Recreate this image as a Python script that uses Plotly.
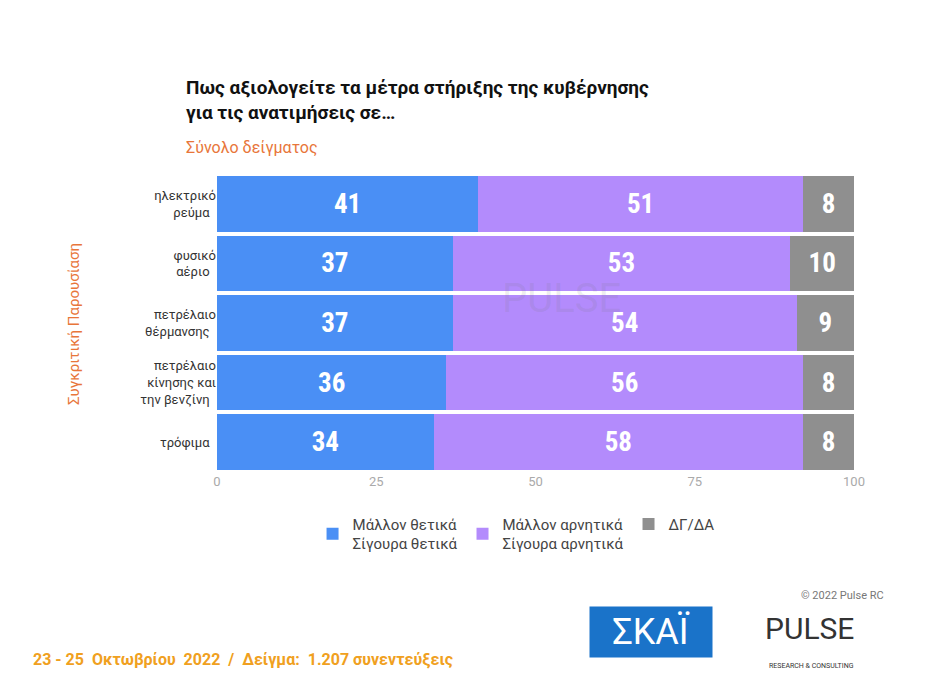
import plotly.graph_objects as go

categories = ["ηλεκτρικό<br>ρεύμα", "φυσικό<br>αέριο", "πετρέλαιο<br>θέρμανσης",
              "πετρέλαιο<br>κίνησης και<br>την βενζίνη", "τρόφιμα"]
positive = [41, 37, 37, 36, 34]
negative = [51, 53, 54, 56, 58]
dkna = [8, 10, 9, 8, 8]
series_names = ["Μάλλον θετικά<br>Σίγουρα θετικά", "Μάλλον αρνητικά<br>Σίγουρα αρνητικά", "ΔΓ/ΔΑ"]
colors = ["#4a8ff5", "#b38bfc", "#8f8f8f"]
tick_vals = [0, 25, 50, 75, 100]

W, H = 944, 692
ML, MR, MT, MB = 209, 98, 166, 228
SHIFT = 7  # plotly draws the plot area slightly right of the margin

fig = go.Figure()
for name, vals, col in zip(series_names, [positive, negative, dkna], colors):
    fig.add_trace(go.Bar(
        y=categories, x=vals, name=name, orientation="h", marker=dict(color=col, line=dict(width=0)),
        text=vals, textposition="inside", insidetextanchor="middle",
        textfont=dict(family="Roboto Condensed, Roboto", size=27, color="white", weight="bold"),
    ))

fig.update_layout(
    barmode="stack", bargap=0.07,
    width=W, height=H, paper_bgcolor="white", plot_bgcolor="white",
    margin=dict(l=ML, r=MR, t=MT, b=MB),
    font=dict(family="Roboto", color="#333"),
    xaxis=dict(range=[0, 100], tickvals=tick_vals, showgrid=False, zeroline=False,
               tickfont=dict(size=13, color="#aaa")),
    yaxis=dict(autorange="reversed", ticksuffix="  ", tickfont=dict(size=13, color="#333")),
    legend=dict(orientation="h", x=0.15, xanchor="left", y=-0.12, yanchor="top",
                font=dict(size=15, color="#444"), traceorder="normal"),
)

pw, ph = W - ML - MR, H - MT - MB


def px(x, y):
    return (x - ML - SHIFT) / pw, 1 - (y - MT) / ph


anns = [
    ((183, 66), dict(text="<b>Πως αξιολογείτε τα μέτρα στήριξης της κυβέρνησης<br>για τις ανατιμήσεις σε…</b>",
                     font=dict(size=19, color="#111"), xanchor="left", yanchor="top", align="left")),
    ((183, 128), dict(text="Σύνολο δείγματος", font=dict(size=16, color="#e8763a"),
                      xanchor="left", yanchor="top")),
    ((62, 316), dict(text="Συγκριτική Παρουσίαση", textangle=-90, font=dict(size=15, color="#e8763a"))),
    ((885, 596), dict(text="© 2022 Pulse RC", font=dict(size=11, color="#777"), xanchor="right")),
    ((30, 663), dict(text="<b>23 - 25  Οκτωβρίου  2022  /  Δείγμα:  1.207 συνεντεύξεις</b>",
                     font=dict(size=16, color="#f0a020"), xanchor="left")),
    ((712, 650), dict(text="ΣΚΑΪ", font=dict(size=36, color="white"), bgcolor="#1a73c9", width=120, height=48)),
    ((855, 640), dict(text="PULSE", font=dict(size=30, color="#333"))),
    ((855, 664), dict(text="RESEARCH & CONSULTING", font=dict(size=7, color="#333"))),
    ((560, 290), dict(text="PULSE", font=dict(size=40, color="rgba(120,120,120,0.15)"))),
]
for (x, y), a in anns:
    ax, ay = px(x, y)
    fig.add_annotation(x=ax, y=ay, xref="paper", yref="paper", showarrow=False, **a)

fig.write_html("out.html")
